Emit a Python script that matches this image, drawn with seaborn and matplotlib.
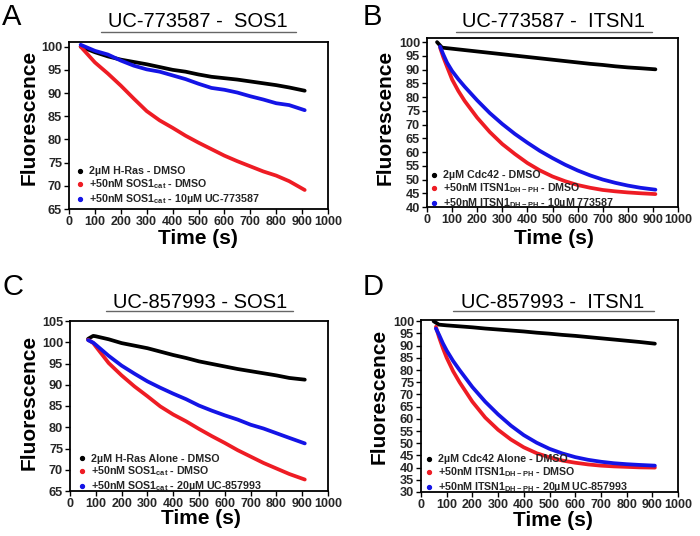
import numpy as np
import pandas as pd
import matplotlib
matplotlib.use("Agg")
import matplotlib.pyplot as plt
from matplotlib.lines import Line2D
import seaborn as sns

# ---------------- data ----------------
A_time = [45, 100, 150, 200, 250, 300, 350, 400, 450, 500, 550, 600, 650, 700, 750, 800, 850, 910]
A_black = [100.0, 98.8, 97.9, 97.2, 96.7, 96.2, 95.6, 95.0, 94.6, 94.0, 93.5, 93.2, 92.9, 92.5, 92.1, 91.7, 91.2, 90.5]
A_red = [100.0, 96.6, 94.2, 91.6, 88.8, 86.1, 84.1, 82.5, 80.8, 79.3, 77.9, 76.5, 75.3, 74.2, 73.1, 72.2, 71.0, 69.1]
A_blue = [100.4, 99.1, 98.3, 97.0, 95.9, 95.1, 94.6, 93.8, 93.0, 92.0, 91.1, 90.7, 90.1, 89.3, 88.6, 87.8, 87.4, 86.3]

B_time_black = [40, 60, 100, 150, 200, 250, 300, 350, 400, 450, 500, 550, 600, 650, 700, 750, 800, 850, 910]
B_black = [100.0, 98.0, 97.6, 97.1, 96.6, 96.1, 95.6, 95.1, 94.6, 94.1, 93.6, 93.1, 92.6, 92.1, 91.7, 91.2, 90.8, 90.5, 90.1]
B_time_gef = [52, 65, 80, 100, 125, 150, 200, 250, 300, 350, 400, 450, 500, 550, 600, 650, 700, 750, 800, 850, 910]
B_red = [98.0, 94.5, 91.0, 86.4, 82.2, 78.6, 72.5, 67.3, 62.9, 59.3, 56.0, 53.3, 51.1, 49.4, 48.0, 47.0, 46.2, 45.7, 45.3, 45.0, 44.7]
B_blue = [98.4, 95.5, 92.5, 89.5, 86.5, 83.8, 78.8, 74.2, 70.2, 66.6, 63.4, 60.4, 57.8, 55.4, 53.3, 51.5, 50.0, 48.8, 47.8, 47.0, 46.3]

C_time = [70, 90, 100, 150, 200, 250, 300, 350, 400, 450, 500, 550, 600, 650, 700, 750, 800, 850, 910]
C_black = [100.8, 101.5, 101.4, 100.7, 99.8, 99.2, 98.6, 97.8, 97.0, 96.3, 95.5, 94.9, 94.3, 93.7, 93.2, 92.7, 92.2, 91.6, 91.2]
C_red = [100.6, 99.8, 99.0, 95.1, 92.2, 89.6, 87.3, 84.9, 83.0, 81.4, 79.6, 77.9, 76.3, 74.6, 73.1, 71.6, 70.3, 69.0, 67.7]
C_blue = [100.5, 99.9, 99.4, 96.8, 94.5, 92.6, 90.8, 89.3, 87.9, 86.6, 85.1, 83.9, 82.8, 81.8, 80.6, 79.7, 78.6, 77.5, 76.2]

D_time_black = [49, 70, 100, 150, 200, 250, 300, 350, 400, 450, 500, 550, 600, 650, 700, 750, 800, 850, 910]
D_black = [100.0, 98.6, 98.3, 97.9, 97.5, 97.0, 96.6, 96.2, 95.8, 95.3, 94.9, 94.4, 94.0, 93.5, 93.0, 92.5, 92.0, 91.5, 90.8]
D_time_gef = [58, 70, 85, 100, 125, 150, 200, 250, 300, 350, 400, 450, 500, 550, 600, 650, 700, 750, 800, 850, 910]
D_red = [97.7, 93.5, 89.0, 85.0, 79.5, 75.0, 67.0, 60.5, 55.5, 51.5, 48.3, 45.9, 44.2, 42.9, 42.0, 41.3, 40.8, 40.5, 40.3, 40.1, 40.0]
D_blue = [97.0, 94.5, 91.0, 88.0, 83.7, 80.0, 73.0, 67.0, 61.8, 57.2, 53.3, 50.2, 47.7, 45.8, 44.3, 43.2, 42.4, 41.8, 41.4, 41.1, 40.8]

titles = ["UC-773587 -  SOS1", "UC-773587 -  ITSN1", "UC-857993 - SOS1", "UC-857993 -  ITSN1"]
letters = ["A", "B", "C", "D"]
labels_A = ["2µM H-Ras - DMSO", "+50nM SOS1$_{\\mathbf{cat}}$ - DMSO",
            "+50nM SOS1$_{\\mathbf{cat}}$ - 10µM UC-773587"]
labels_B = ["2µM Cdc42 - DMSO", "+50nM ITSN1$_{\\mathbf{DH-PH}}$ - DMSO",
            "+50nM ITSN1$_{\\mathbf{DH-PH}}$ - 10µM 773587"]
labels_C = ["2µM H-Ras Alone - DMSO", "+50nM SOS1$_{\\mathbf{cat}}$ - DMSO",
            "+50nM SOS1$_{\\mathbf{cat}}$ - 20µM UC-857993"]
labels_D = ["2µM Cdc42 Alone - DMSO", "+50nM ITSN1$_{\\mathbf{DH-PH}}$ - DMSO",
            "+50nM ITSN1$_{\\mathbf{DH-PH}}$ - 20µM UC-857993"]
x_ticks = [0, 100, 200, 300, 400, 500, 600, 700, 800, 900, 1000]

# ---------------- style ----------------
sns.set_theme(style="white")
plt.rcParams["font.family"] = ["Liberation Sans", "DejaVu Sans"]
plt.rcParams["mathtext.fontset"] = "custom"
plt.rcParams["mathtext.rm"] = "Liberation Sans"
plt.rcParams["mathtext.bf"] = "Liberation Sans:bold"
plt.rcParams["mathtext.it"] = "Liberation Sans:italic"

COLORS = ["#000000", "#ee1c24", "#1414e6"]

W, H = 700, 536
fig = plt.figure(figsize=(7.0, 5.36), dpi=100)


def fbox(l, t, r, b):
    return [l / W, 1 - b / H, (r - l) / W, (b - t) / H]


def fx(px):
    return px / W


def fy(py):
    return 1 - py / H


panels = [
    dict(box=(69, 42, 328, 209), ylim=(65, 101), yticks=list(range(65, 101, 5)),
         series=[(A_time, A_black), (A_time, A_red), (A_time, A_blue)], labels=labels_A,
         title_c=198, title_y=27, ul=(101, 296, 32), letter=(2, 25),
         leg=(75, 166.5), ylab=(39, 117), xlab=(198, 229)),
    dict(box=(427, 38, 678, 207), ylim=(40, 101.5), yticks=list(range(40, 101, 5)),
         series=[(B_time_black, B_black), (B_time_gef, B_red), (B_time_gef, B_blue)], labels=labels_B,
         title_c=554, title_y=27, ul=(456, 652, 32), letter=(363, 25),
         leg=(429, 170.5), ylab=(395, 117), xlab=(554, 229)),
    dict(box=(70, 321, 328, 491), ylim=(65, 105), yticks=list(range(65, 106, 5)),
         series=[(C_time, C_black), (C_time, C_red), (C_time, C_blue)], labels=labels_C,
         title_c=200, title_y=308, ul=(106, 293, 311), letter=(2, 295),
         leg=(77, 453.5), ylab=(39, 402), xlab=(201, 509)),
    dict(box=(421, 320, 678, 492), ylim=(30, 100.5), yticks=list(range(30, 101, 5)),
         series=[(D_time_black, D_black), (D_time_gef, D_red), (D_time_gef, D_blue)], labels=labels_D,
         title_c=553, title_y=308, ul=(453, 654, 311), letter=(363, 295),
         leg=(424, 454.5), ylab=(389, 396), xlab=(553, 510.5)),
]

for i, p in enumerate(panels):
    ax = fig.add_axes(fbox(*p["box"]))
    rows = []
    for k, (t, v) in enumerate(p["series"]):
        for tt, vv in zip(t, v):
            rows.append({"time": tt, "fluor": vv, "series": k})
    df = pd.DataFrame(rows)
    for k in range(3):
        sub = df[df["series"] == k]
        sns.lineplot(data=sub, x="time", y="fluor", ax=ax, color=COLORS[k], linewidth=2.7,
                     estimator=None, sort=False, legend=False)
    ax.set_xlim(0, 1000)
    ax.set_ylim(*p["ylim"])
    ax.set_xticks(x_ticks)
    ax.set_yticks(p["yticks"])
    ax.tick_params(axis="both", which="major", direction="out", length=3.5, width=1.0,
                   color="black", pad=1.5, bottom=True, left=True)
    ax.tick_params(axis="x", labelsize=9)
    ax.tick_params(axis="y", labelsize=9.2)
    for lab in ax.get_xticklabels() + ax.get_yticklabels():
        lab.set_fontweight("bold")
    for s in ax.spines.values():
        s.set_color("black")
        s.set_linewidth(1.3)
    ax.set_facecolor("white")

    l, t, r, b = p["box"]
    ax.set_ylabel("Fluorescence", fontsize=15, fontweight="bold", color="black")
    ax.yaxis.set_label_coords((p["ylab"][0] - l) / (r - l), (b - p["ylab"][1]) / (b - t))
    ax.set_xlabel("Time (s)", fontsize=15, fontweight="bold", color="black", va="top")
    ax.xaxis.set_label_coords((p["xlab"][0] - l) / (r - l), (b - p["xlab"][1]) / (b - t))

    handles = [Line2D([], [], marker="o", ls="", color=c, markersize=2.8) for c in COLORS]
    ax.legend(handles, p["labels"], loc="upper left",
              bbox_to_anchor=(fx(p["leg"][0]), fy(p["leg"][1])), bbox_transform=fig.transFigure,
              frameon=False, borderpad=0, borderaxespad=0, handlelength=0.9, handletextpad=0.4,
              labelspacing=0.1, prop={"size": 7.7, "weight": "bold"})

    fig.text(fx(p["title_c"]), fy(p["title_y"]), titles[i], ha="center", va="baseline",
             fontsize=14.5, color="black")
    ux0, ux1, uy = p["ul"]
    fig.add_artist(Line2D([fx(ux0), fx(ux1)], [fy(uy), fy(uy)], color="#666666", linewidth=1.0,
                          transform=fig.transFigure))
    fig.text(fx(p["letter"][0]), fy(p["letter"][1]), letters[i], ha="left", va="baseline",
             fontsize=21, color="black")

fig.savefig("out.png", dpi=100, facecolor="white")
